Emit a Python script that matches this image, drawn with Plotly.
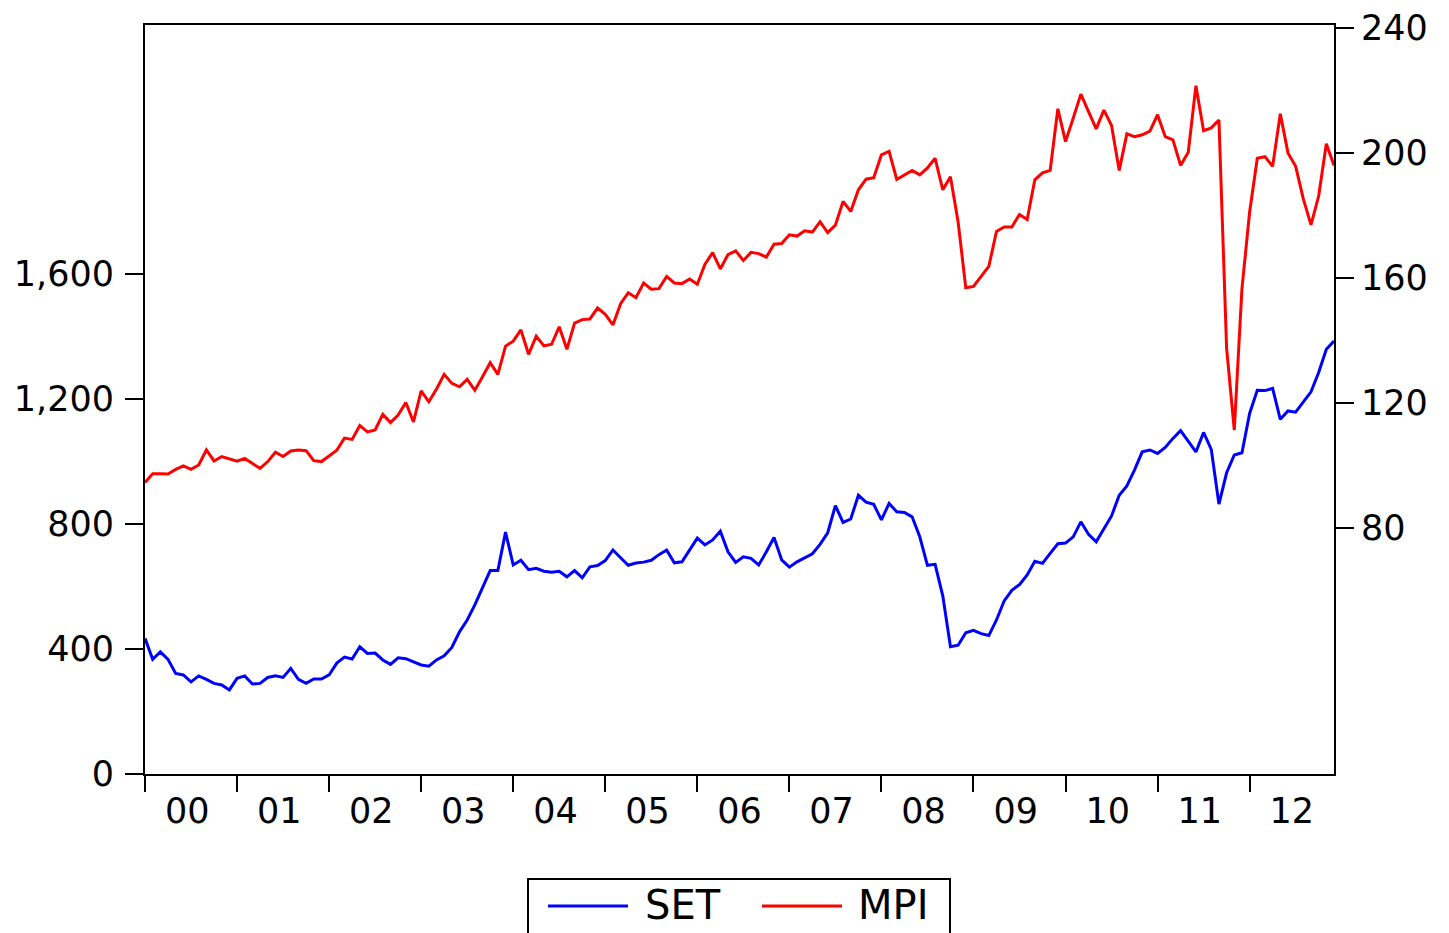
import plotly.graph_objects as go

# ---- data (monthly, Jan 2000 - Dec 2012) ----
year_labels = ["00", "01", "02", "03", "04", "05", "06", "07", "08", "09", "10", "11", "12"]

set_values = [
    434, 367, 391, 367, 322, 317, 295, 314, 303, 290, 285, 269,
    306, 314, 288, 290, 309, 314, 309, 338, 303, 290, 304, 304,
    317, 355, 374, 368, 407, 386, 387, 365, 351, 372, 369, 358,
    349, 345, 365, 378, 405, 455, 493, 541, 597, 651, 651, 774,
    669, 684, 654, 658, 649, 646, 649, 631, 651, 628, 663, 667,
    683, 717, 692, 668, 675, 678, 684, 702, 717, 676, 679, 717,
    755, 733, 749, 777, 711, 677, 695, 690, 669, 711, 757, 685,
    662, 679, 692, 705, 735, 772, 859, 805, 816, 892, 870, 863,
    813, 866, 839, 837, 823, 759, 668, 671, 570, 407, 412, 452,
    460, 449, 443, 493, 554, 588, 606, 637, 681, 674, 706, 737,
    739, 759, 807, 767, 743, 783, 826, 892, 922, 973, 1031, 1037,
    1026, 1045, 1074, 1099, 1066, 1031, 1093, 1039, 864, 964, 1021, 1028,
    1154, 1228, 1227, 1234, 1135, 1162, 1158, 1191, 1223, 1285, 1359, 1386,
]

mpi_values = [
    94.5, 97.3, 97.3, 97.2, 98.7, 99.8, 98.7, 100.1, 104.9, 101.4, 102.8, 102.1,
    101.3, 102.2, 100.6, 99.0, 101.2, 104.2, 102.8, 104.6, 104.9, 104.7, 101.5, 101.2,
    103.0, 104.8, 108.7, 108.3, 112.7, 110.7, 111.3, 116.3, 113.7, 116.1, 120.1, 113.9,
    123.8, 120.3, 124.4, 129.1, 126.2, 125.1, 127.5, 124.0, 128.3, 132.8, 129.1, 138.1,
    139.7, 143.3, 135.5, 141.3, 138.2, 138.7, 144.3, 137.1, 145.5, 146.6, 146.8, 150.3,
    148.3, 144.9, 151.7, 155.2, 153.6, 158.3, 156.3, 156.5, 160.4, 158.3, 158.1, 159.6,
    157.9, 164.3, 168.0, 162.8, 167.4, 168.6, 165.5, 168.1, 167.7, 166.6, 170.7, 170.9,
    173.7, 173.3, 175.0, 174.6, 177.9, 174.4, 176.8, 184.4, 181.2, 188.1, 191.5, 192.0,
    199.3, 200.4, 191.4, 192.8, 194.3, 192.9, 195.1, 198.2, 188.1, 192.3, 177.8, 156.8,
    157.2, 160.4, 163.6, 174.8, 176.2, 176.2, 180.2, 178.6, 191.3, 193.5, 194.3, 214.0,
    203.5, 211.0, 218.7, 213.1, 207.6, 213.6, 208.7, 194.3, 206.0, 205.1, 205.7, 206.9,
    212.1, 205.1, 204.1, 195.9, 200.1, 221.4, 207.0, 207.9, 210.4, 137.4, 111.3, 156.5,
    181.0, 198.2, 198.7, 195.6, 212.4, 199.9, 195.6, 185.2, 176.9, 186.1, 202.8, 195.9,
]

left_tickvals = [0, 400, 800, 1200, 1600]
left_ticktext = ["0", "400", "800", "1,200", "1,600"]
right_tickvals = [80, 120, 160, 200, 240]
right_ticktext = ["80", "120", "160", "200", "240"]

series_names = ["SET", "MPI"]
series_colors = ["#0000FF", "#FF0000"]

# ---- figure ----
n = len(set_values)
obs = list(range(n))
year_start = [12 * k for k in range(len(year_labels))]
year_mid = [12 * k + 5.5 for k in range(len(year_labels))]

fig = go.Figure()
fig.add_trace(go.Scatter(x=obs, y=set_values, mode="lines", name=series_names[0],
                         line=dict(color=series_colors[0], width=3), yaxis="y"))
fig.add_trace(go.Scatter(x=obs, y=mpi_values, mode="lines", name=series_names[1],
                         line=dict(color=series_colors[1], width=3), yaxis="y2"))

FONT = "DejaVu Sans"

# page body adds an 8px offset; figure sized so plot area sits at x 145-1334, y 25-774
fig.update_layout(
    width=1441, height=925,
    margin=dict(l=137, r=115, t=17, b=159),
    paper_bgcolor="white", plot_bgcolor="white",
    showlegend=False,
    font=dict(family=FONT, size=35, color="black"),
    xaxis=dict(
        range=[0, n - 1], tickmode="array", tickvals=year_mid, ticktext=year_labels,
        ticks="outside", ticklen=5, tickcolor="rgba(0,0,0,0)",
        showgrid=False, zeroline=False, automargin=False,
        showline=True, linecolor="black", linewidth=2, mirror=True,
        minor=dict(tickmode="array", tickvals=year_start, ticks="outside",
                   ticklen=16, tickwidth=2, tickcolor="black", showgrid=False),
    ),
    yaxis=dict(
        range=[0, 2397], tickmode="array", tickvals=left_tickvals, ticktext=left_ticktext,
        ticks="outside", ticklen=18, tickwidth=2, tickcolor="black",
        ticklabelstandoff=4, ticklabeloverflow="allow",
        showgrid=False, zeroline=False, automargin=False,
        showline=True, linecolor="black", linewidth=2, mirror=True,
    ),
    yaxis2=dict(
        overlaying="y", side="right",
        range=[1.3, 240.8], tickmode="array", tickvals=right_tickvals, ticktext=right_ticktext,
        ticks="outside", ticklen=18, tickwidth=2, tickcolor="black",
        ticklabeloverflow="allow",
        showgrid=False, zeroline=False, automargin=False,
        showline=True, linecolor="black", linewidth=2,
    ),
)

# ---- legend drawn below the plot ----
def px_x(p):
    return (p - 145) / 1189.0

def px_y(p):
    return (774 - p) / 749.0

shapes = [
    dict(type="rect", xref="paper", yref="paper",
         x0=px_x(528), x1=px_x(950), y0=px_y(950), y1=px_y(879),
         line=dict(color="black", width=2), fillcolor="white"),
]
legend_items = [(548, 628, 643), (762, 842, 856)]
for (lx0, lx1, tx), name, col in zip(legend_items, series_names, series_colors):
    shapes.append(dict(type="line", xref="paper", yref="paper",
                       x0=px_x(lx0), x1=px_x(lx1), y0=px_y(906), y1=px_y(906),
                       line=dict(color=col, width=3)))
    fig.add_annotation(xref="paper", yref="paper", x=px_x(tx), y=px_y(905),
                       xanchor="left", yanchor="middle", text=name, showarrow=False,
                       font=dict(family=FONT, size=40, color="black"))
fig.update_layout(shapes=shapes)

fig.write_html("out.html")
